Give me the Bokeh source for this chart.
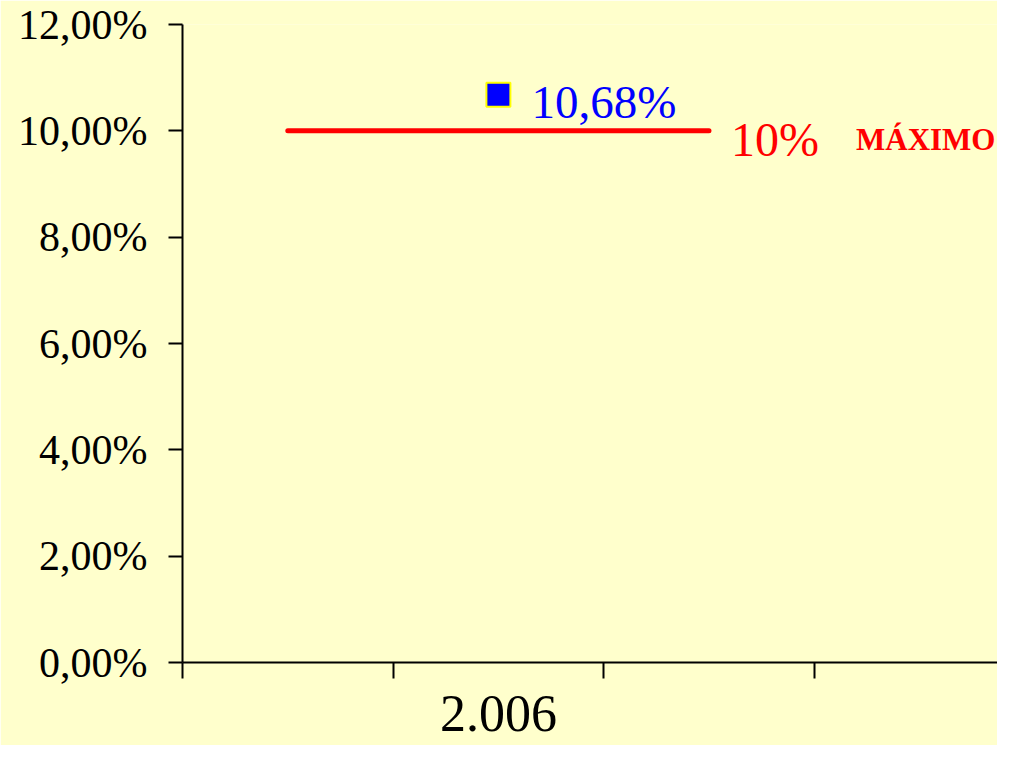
from bokeh.plotting import figure
from bokeh.models import Range1d, FixedTicker, ColumnDataSource
from bokeh.core.properties import value
from bokeh.embed import file_html
from bokeh.resources import INLINE

# data
years = ["2.006"]
year_pos = [1.5]
rates = [10.68]
rate_labels = ["10,68%"]
maximum = 10.0
max_label = "10%"
max_text = "MÁXIMO"
y_ticks = [0, 2, 4, 6, 8, 10, 12]
x_ticks = [0, 1, 2, 3]

BG = "#FFFFCC"
FONT = "Liberation Serif"

p = figure(width=997, height=745, output_backend="svg", toolbar_location=None,
           x_range=Range1d(0, 3.87), y_range=Range1d(0, 12),
           min_border_left=182, min_border_top=24, min_border_bottom=83, min_border_right=0)
p.background_fill_color = BG
p.border_fill_color = BG
p.outline_line_color = None
p.grid.visible = False

# y axis
ya = p.yaxis[0]
ya.ticker = FixedTicker(ticks=y_ticks)
ya.major_label_overrides = {t: f"{t:.2f}%".replace(".", ",") for t in y_ticks}
ya.major_label_text_font = FONT
ya.major_label_text_font_size = "42px"
ya.major_label_text_color = "black"
ya.major_label_standoff = 21
ya.axis_line_width = 2
ya.axis_line_color = "black"
ya.major_tick_line_width = 2
ya.major_tick_line_color = "black"
ya.major_tick_in = 0
ya.major_tick_out = 14
ya.minor_tick_line_color = None

# x axis: year label as major tick (hidden mark), boundaries as minor ticks
xa = p.xaxis[0]
xa.ticker = FixedTicker(ticks=year_pos, minor_ticks=x_ticks)
xa.major_label_overrides = {pos: y for pos, y in zip(year_pos, years)}
xa.major_label_text_font = FONT
xa.major_label_text_font_size = "52px"
xa.major_label_text_color = "black"
xa.major_label_standoff = 17
xa.axis_line_width = 2
xa.axis_line_color = "black"
xa.major_tick_line_color = None
xa.major_tick_in = 0
xa.major_tick_out = 0
xa.minor_tick_line_width = 2
xa.minor_tick_line_color = "black"
xa.minor_tick_in = 0
xa.minor_tick_out = 16

# max line
line_x = [year_pos[0] - 1, year_pos[0] + 1]
p.line(line_x, [maximum, maximum], line_color="#FF0000", line_width=5, line_cap="round")

# value point
src = ColumnDataSource(dict(x=year_pos, y=rates, lab=rate_labels))
p.scatter("x", "y", source=src, marker="square", size=24,
          fill_color="#0000FF", line_color="#FFFF00", line_width=2)
p.text("x", "y", text="lab", source=src, x_offset=33, y_offset=7,
       text_font=value(FONT), text_font_size="47px", text_color="#0000FF",
       text_align="left", text_baseline="middle")

# max labels
msrc = ColumnDataSource(dict(x=[line_x[1]], y=[maximum], a=[max_label], b=[max_text]))
p.text("x", "y", text="a", source=msrc, x_offset=22, y_offset=9,
       text_font=value(FONT), text_font_size="48px", text_color="#FF0000",
       text_align="left", text_baseline="middle")
p.text("x", "y", text="b", source=msrc, x_offset=147, y_offset=9,
       text_font=value(FONT), text_font_size="31px", text_font_style="bold",
       text_color="#FF0000", text_align="left", text_baseline="middle")

open("out.html", "w").write(file_html(p, INLINE))
